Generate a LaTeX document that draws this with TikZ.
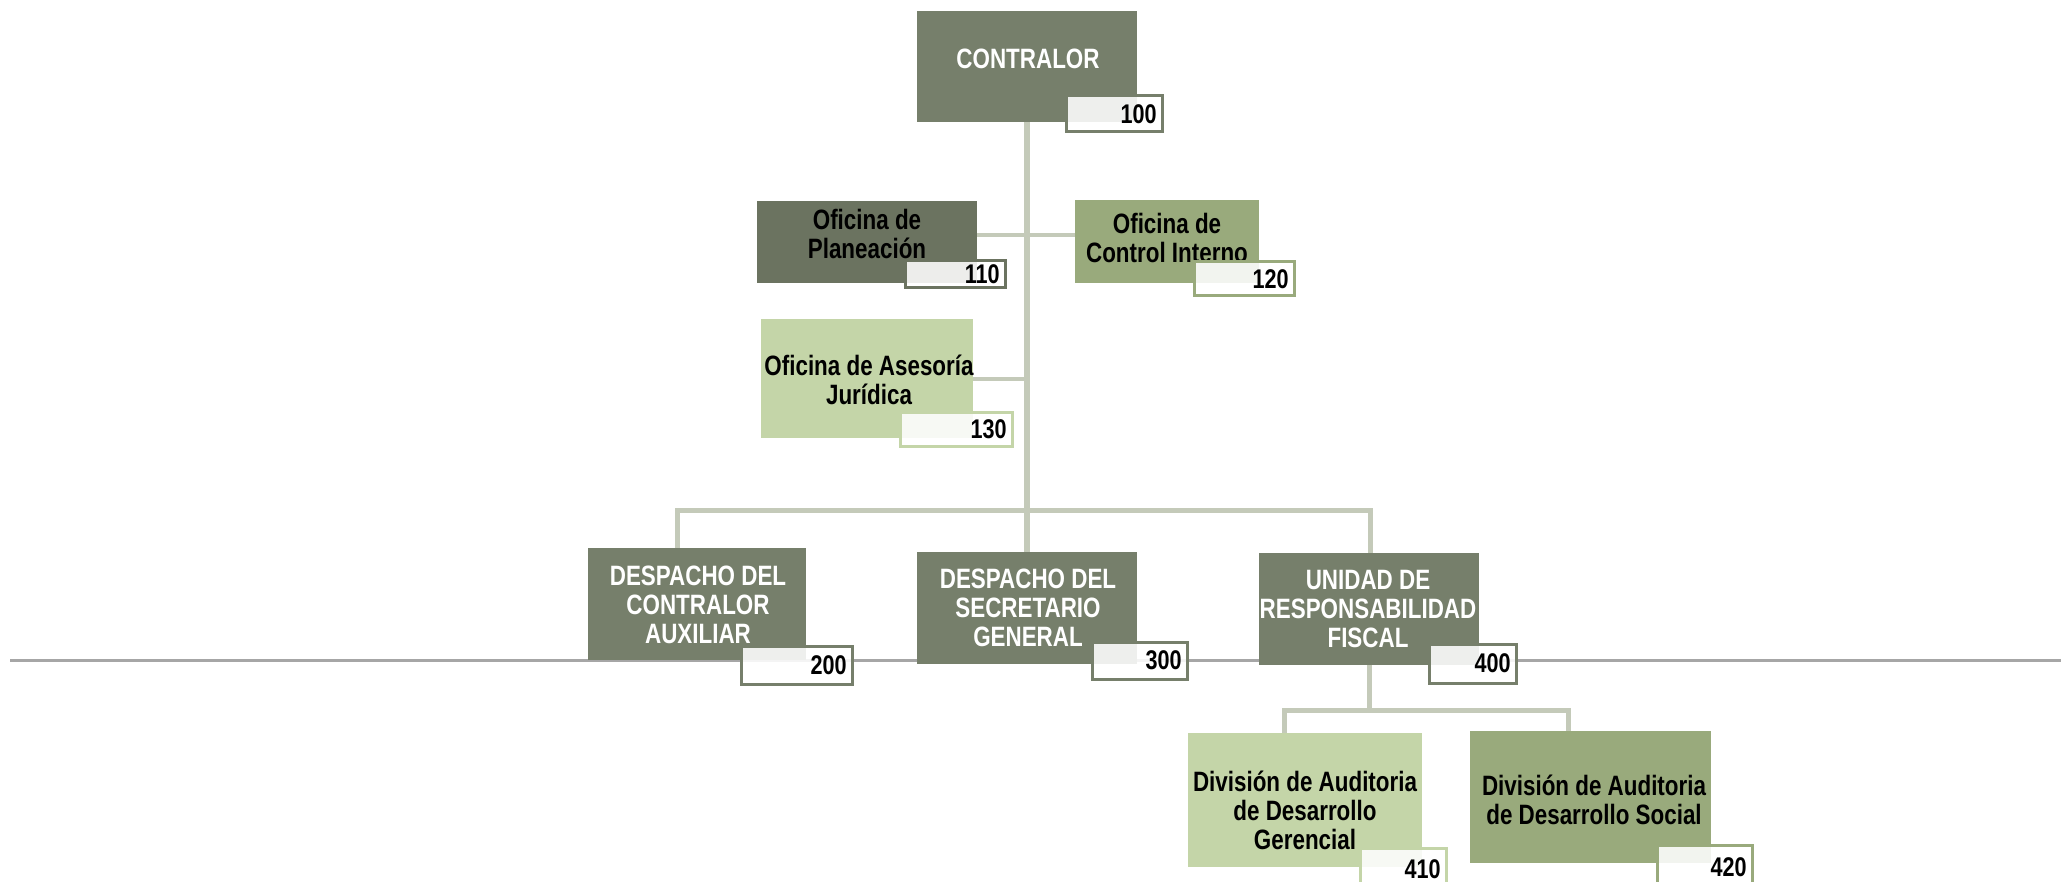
\documentclass[tikz,border=0pt]{standalone}
\usepackage{fontspec}
\setmainfont{Liberation Sans}[FakeStretch=0.8]
\usetikzlibrary{fit,backgrounds,calc}
\definecolor{cDark}{HTML}{767F6B}
\definecolor{cDarker}{HTML}{6B7360}
\definecolor{cMid}{HTML}{99AA7C}
\definecolor{cLight}{HTML}{C4D5A8}
\definecolor{cLine}{HTML}{C4CAB9}
\definecolor{cGray}{HTML}{A6A6A6}
\begin{document}
\begin{tikzpicture}[x=0.5pt,y=-0.5pt,
  boxn/.style={fill=#1, draw=none, inner sep=0pt, outer sep=0pt},
  badge/.style={draw=#1, line width=1.5pt, fill=white, fill opacity=0.88, draw opacity=1, inner sep=0pt, outer sep=0pt},
  wtxt/.style={text=white, font=\fontsize{14}{14.5}\selectfont\bfseries, align=center, inner sep=0pt},
  btxt/.style={text=black, font=\fontsize{14}{14.5}\selectfont\bfseries, align=center, inner sep=0pt},
  num/.style={anchor=east, text=black, font=\fontsize{13.5}{13.5}\selectfont\bfseries, inner sep=0pt},
  conn/.style={draw=cLine, line width=#1, line join=miter},
  conn/.default=2.5pt,
  rule/.style={draw=cGray, line width=1.5pt}]
\path[use as bounding box] (0,0) rectangle (2061,882);
\clip (0,0) rectangle (2061,882);

% Contralor
\node[boxn=cDark, fit={(917,11)(1137,122)}] (b100) {};
\node[wtxt] (t100) at (1028,59) {CONTRALOR};
\node[badge=cDark, fit={(1066,96)(1162,132)}] (g100) {};
\node[num] (n100) at ([xshift=-2.5pt]g100.east) {100};

% Staff offices
\node[boxn=cDarker, fit={(757,201)(977,283)}] (b110) {};
\node[btxt] (t110) at (867,234) {Oficina de\\Planeación};
\node[badge=cDarker, fit={(905,261)(1005,288)}] (g110) {};
\node[num] (n110) at ([xshift=-2.5pt]g110.east) {110};

\node[boxn=cMid, fit={(1075,200)(1259,283)}] (b120) {};
\node[btxt] (t120) at (1167,238) {Oficina de\\Control Interno};
\node[badge=cMid, fit={(1194,262)(1294,296)}] (g120) {};
\node[num] (n120) at ([xshift=-2.5pt]g120.east) {120};

\node[boxn=cLight, fit={(761,319)(973,438)}] (b130) {};
\node[btxt] (t130) at (869,380) {Oficina de Asesoría\\Jurídica};
\node[badge=cLight, fit={(900,412)(1012,446)}] (g130) {};
\node[num] (n130) at ([xshift=-2.5pt]g130.east) {130};

% Main units
\node[boxn=cDark, fit={(588,548)(806,660)}] (b200) {};
\node[wtxt] (t200) at (698,605) {DESPACHO DEL\\CONTRALOR\\AUXILIAR};
\node[badge=cDark, fit={(741,646)(852,684)}] (g200) {};
\node[num] (n200) at ([xshift=-2.5pt]g200.east) {200};

\node[boxn=cDark, fit={(917,552)(1137,664)}] (b300) {};
\node[wtxt] (t300) at (1028,608) {DESPACHO DEL\\SECRETARIO\\GENERAL};
\node[badge=cDark, fit={(1092,642)(1187,679)}] (g300) {};
\node[num] (n300) at ([xshift=-2.5pt]g300.east) {300};

\node[boxn=cDark, fit={(1259,553)(1479,665)}] (b400) {};
\node[wtxt] (t400) at (1368,609) {UNIDAD DE\\RESPONSABILIDAD\\FISCAL};
\node[badge=cDark, fit={(1429,644)(1516,683)}] (g400) {};
\node[num] (n400) at ([xshift=-2.5pt]g400.east) {400};

% Audit divisions
\node[boxn=cLight, fit={(1188,733)(1422,867)}] (b410) {};
\node[btxt] (t410) at (1305,810) {División de Auditoria\\de Desarrollo\\Gerencial};
\node[badge=cLight, fit={(1360,848)(1446,890)}] (g410) {};
\node[num] (n410) at ([xshift=-2.5pt]g410.east) {410};

\node[boxn=cMid, fit={(1470,731)(1711,863)}] (b420) {};
\node[btxt] (t420) at (1594,800) {División de Auditoria\\de Desarrollo Social};
\node[badge=cMid, fit={(1657,845)(1752,890)}] (g420) {};
\node[num] (n420) at ([xshift=-2.5pt]g420.east) {420};

% Connectors, behind the boxes
\coordinate (hl) at (10,660);
\coordinate (hr) at (2061,660);
\coordinate (jL) at (677,510);
\coordinate (jR) at (1370,510);
\coordinate (kL) at (1284,710);
\coordinate (kR) at (1568,710);
\begin{pgfonlayer}{background}
  \draw[rule] (hl) -- (hr);
  \draw[conn=3pt] (b100.south) -- (b300.north);
  \coordinate (j1) at ([yshift=3.5pt]b110.east);
  \draw[conn=2pt] (j1) -- (j1 -| b120.west);
  \draw[conn=2pt] (b130.east) -- (b130.east -| b100.south);
  \draw[conn] (jL |- b200.north) -- (jL) -- (jR) -- (jR |- b400.north);
  \draw[conn] (b400.south) -- (b400.south |- kL);
  \draw[conn] (kL |- b410.north) -- (kL) -- (kR) -- (kR |- b420.north);
\end{pgfonlayer}
\end{tikzpicture}
\end{document}
